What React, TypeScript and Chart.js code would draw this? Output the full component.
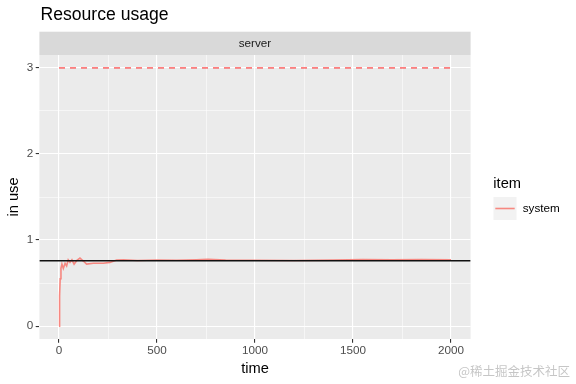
import React, { useEffect, useRef } from "react";
import { Chart, registerables } from "chart.js";

Chart.register(...registerables);

// ---- data ----
const systemTime = [0, 3, 6, 10, 15, 22, 31, 39, 47, 56, 66, 77, 90, 107, 124, 141, 175, 226, 260, 294, 330, 400, 500, 600, 700, 760, 850, 1000, 1200, 1400, 1550, 1700, 1850, 2000];
const systemUsage = [0, 0.35, 0.55, 0.67, 0.72, 0.67, 0.73, 0.7, 0.77, 0.74, 0.77, 0.72, 0.76, 0.79, 0.756, 0.72, 0.73, 0.73, 0.74, 0.767, 0.77, 0.762, 0.768, 0.765, 0.77, 0.775, 0.768, 0.765, 0.763, 0.766, 0.772, 0.77, 0.772, 0.77];
const limitTime = [0, 2000];
const limitValue = [3, 3];
const meanUsage = 0.76;
const xRange = [-100, 2100];
const yRange = [-0.15, 3.15];
const xMajor = [0, 500, 1000, 1500, 2000];
const xMinor = [250, 750, 1250, 1750];
const yMajor = [0, 1, 2, 3];
const yMinor = [0.5, 1.5, 2.5];
const titleText = "Resource usage";
const stripText = "server";
const xTitle = "time";
const yTitle = "in use";
const legendTitle = "item";
const legendLabel = "system";
const watermark = "@稀土掘金技术社区";

const FONT = '"Liberation Sans", Arial, Helvetica, sans-serif';
const SYSTEM_COLOR = "rgba(248,118,109,0.85)";

const isMajor = (v: number, list: number[]) => list.some((m) => Math.abs(m - v) < 1e-9);

const decorPlugin = {
  id: "decor",
  beforeDraw(chart: any) {
    const { ctx, chartArea: a } = chart;
    ctx.save();
    ctx.fillStyle = "#FFFFFF";
    ctx.fillRect(0, 0, chart.width, chart.height);
    ctx.fillStyle = "#EBEBEB";
    ctx.fillRect(a.left, a.top, a.right - a.left, a.bottom - a.top);
    // strip
    ctx.fillStyle = "#D9D9D9";
    ctx.fillRect(a.left, a.top - 23.3, a.right - a.left, 23.3);
    ctx.fillStyle = "#1A1A1A";
    ctx.font = `11.7px ${FONT}`;
    ctx.textAlign = "center";
    ctx.textBaseline = "middle";
    ctx.fillText(stripText, (a.left + a.right) / 2, a.top - 11.6);
    ctx.restore();
  },
  afterDraw(chart: any) {
    const { ctx, chartArea: a } = chart;
    ctx.save();
    // title
    ctx.fillStyle = "#000000";
    ctx.font = `17.6px ${FONT}`;
    ctx.textAlign = "left";
    ctx.textBaseline = "alphabetic";
    ctx.fillText(titleText, 40.5, 20);
    // axis titles
    ctx.font = `14.67px ${FONT}`;
    ctx.textAlign = "center";
    ctx.fillText(xTitle, (a.left + a.right) / 2, 373);
    ctx.save();
    ctx.translate(17.8, (a.top + a.bottom) / 2);
    ctx.rotate(-Math.PI / 2);
    ctx.fillText(yTitle, 0, 0);
    ctx.restore();
    // legend
    ctx.textAlign = "left";
    ctx.fillText(legendTitle, 493.3, 188.3);
    ctx.fillStyle = "#F2F2F2";
    ctx.fillRect(493.5, 197, 23, 23);
    ctx.strokeStyle = SYSTEM_COLOR;
    ctx.lineWidth = 1.6;
    ctx.beginPath();
    ctx.moveTo(495.3, 208.5);
    ctx.lineTo(514.7, 208.5);
    ctx.stroke();
    ctx.fillStyle = "#000000";
    ctx.font = `11.7px ${FONT}`;
    ctx.textBaseline = "middle";
    ctx.fillText(legendLabel, 522.7, 208.5);
    // watermark
    ctx.fillStyle = "rgba(160,160,160,0.6)";
    ctx.font = `12.5px "Noto Sans CJK SC", sans-serif`;
    ctx.textAlign = "right";
    ctx.textBaseline = "alphabetic";
    ctx.fillText(watermark, 570, 376);
    ctx.restore();
  },
};

export default function App() {
  const ref = useRef<HTMLCanvasElement | null>(null);
  useEffect(() => {
    if (!ref.current) return;
    const chart = new Chart(ref.current, {
      type: "line",
      data: {
        datasets: [
          {
            label: "mean",
            data: xRange.map((x) => ({ x, y: meanUsage })),
            borderColor: "#111111",
            borderWidth: 1.5,
            pointRadius: 0,
            order: 0,
          },
          {
            label: "limit",
            data: limitTime.map((x, i) => ({ x, y: limitValue[i] })),
            borderColor: "rgba(255,0,0,0.5)",
            borderWidth: 1.6,
            borderDash: [6, 5],
            pointRadius: 0,
            order: 1,
          },
          {
            label: legendLabel,
            data: systemTime.map((x, i) => ({ x, y: systemUsage[i] })),
            borderColor: SYSTEM_COLOR,
            borderWidth: 1.6,
            pointRadius: 0,
            tension: 0,
            order: 2,
          },
        ],
      },
      options: {
        animation: false,
        responsive: false,
        devicePixelRatio: 1,
        layout: { padding: { top: 55, right: 105.4, bottom: 0, left: 0 } },
        plugins: { legend: { display: false }, tooltip: { enabled: false }, title: { display: false } },
        scales: {
          x: {
            type: "linear",
            min: xRange[0],
            max: xRange[1],
            afterFit: (s: any) => {
              s.height = 45;
            },
            afterBuildTicks: (s: any) => {
              s.ticks = [...xMajor, ...xMinor].sort((p, q) => p - q).map((v) => ({ value: v }));
            },
            border: { display: false },
            grid: {
              color: "#FFFFFF",
              lineWidth: (c: any) => (isMajor(c.tick?.value, xMajor) ? 1.1 : 0.55),
              tickColor: (c: any) => (isMajor(c.tick?.value, xMajor) ? "#333333" : "rgba(0,0,0,0)"),
              tickLength: 3.7,
              drawTicks: true,
            },
            ticks: {
              autoSkip: false,
              maxRotation: 0,
              padding: 1.5,
              color: "#4D4D4D",
              font: { family: FONT, size: 11.7 },
              callback: (v: any) => (isMajor(Number(v), xMajor) ? String(v) : ""),
            },
          },
          y: {
            type: "linear",
            min: yRange[0],
            max: yRange[1],
            afterFit: (s: any) => {
              s.width = 39.4;
            },
            afterBuildTicks: (s: any) => {
              s.ticks = [...yMajor, ...yMinor].sort((p, q) => p - q).map((v) => ({ value: v }));
            },
            border: { display: false },
            grid: {
              color: "#FFFFFF",
              lineWidth: (c: any) => (isMajor(c.tick?.value, yMajor) ? 1.1 : 0.55),
              tickColor: (c: any) => (isMajor(c.tick?.value, yMajor) ? "#333333" : "rgba(0,0,0,0)"),
              tickLength: 3.7,
              drawTicks: true,
            },
            ticks: {
              autoSkip: false,
              padding: 2.5,
              color: "#4D4D4D",
              font: { family: FONT, size: 11.7 },
              callback: (v: any) => (isMajor(Number(v), yMajor) ? String(v) : ""),
            },
          },
        },
      },
      plugins: [decorPlugin],
    } as any);
    return () => chart.destroy();
  }, []);
  return (
    <div style={{ position: "fixed", left: 0, top: 0, width: 576, height: 384 }}>
      <canvas ref={ref} width={576} height={384} style={{ display: "block" }} />
    </div>
  );
}
